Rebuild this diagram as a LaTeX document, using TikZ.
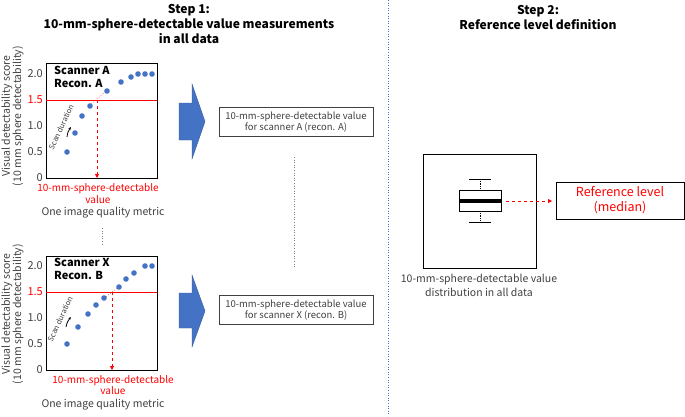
\documentclass[tikz,border=0pt]{standalone}
\usepackage{fontspec}
\setmainfont{Noto Sans CJK JP}
\usetikzlibrary{arrows.meta}
\definecolor{obl}{HTML}{4472C4}
\definecolor{dgray}{HTML}{404040}
\definecolor{rd}{HTML}{FF0000}
\begin{document}
\begin{tikzpicture}[x=1pt,y=-1pt,
  ttl/.style={font=\bfseries\fontsize{12.1}{15}\selectfont, align=center, text=black},
  tick/.style={anchor=east, font=\fontsize{11}{12}\selectfont, text=dgray, inner sep=0},
  ylab/.style={rotate=90, font=\fontsize{10.5}{12}\selectfont, text=dgray, inner sep=0},
  frame/.style={draw=black, line width=0.9pt, anchor=north west, inner sep=0},
  pt/.style={fill=obl},
  bold font/.style={font=\bfseries\fontsize{11}{12.5}\selectfont, anchor=north west, align=left, inner sep=0, text=black},
  sdur/.style={rotate=65, font=\fontsize{7.5}{8}\selectfont, text=dgray, inner sep=0},
  redlab/.style={font=\fontsize{10}{11.5}\selectfont, align=center, text=rd, inner sep=0},
  metric/.style={font=\fontsize{10.5}{12}\selectfont, text=dgray, inner sep=0},
  valbox/.style={draw=dgray, line width=0.8pt, minimum width=154pt, minimum height=29pt, font=\fontsize{9.5}{11}\selectfont, align=center, text=dgray, inner sep=0},
  blockarrow/.style={fill=obl, draw=obl!80!black, line width=0.4pt},
  reddash/.style={draw=rd, dashed, line width=0.9pt, -{Triangle[length=4pt,width=4pt]}},
  vdots/.style={draw=gray, dotted, line width=0.6pt}
]
\useasboundingbox (0,0) rectangle (685,416);

% titles
\node[ttl] (t1) at (189,24) {Step 1:\\10-mm-sphere-detectable value measurements\\in all data};
\node[ttl] (t2) at (538,17) {Step 2:\\Reference level definition};

% separator
\coordinate (sepT) at (388,0);
\coordinate (sepB) at (388,416);
\draw[obl, dotted, line width=0.6pt] (sepT) -- (sepB);

% ---------- plot A ----------
\node[frame, minimum width=111pt, minimum height=115pt] (pA) at (46,63) {};
\node[tick] (a20) at (43,74) {2.0};
\node[tick, text=rd] (a15) at (43,100) {1.5};
\node[tick] (a10) at (43,126) {1.0};
\node[tick] (a05) at (43,152) {0.5};
\node[tick] (a00) at (43,178) {0};
\node[ylab] (yA1) at (7,116) {Visual detectability score};
\node[ylab] (yA2) at (18,116) {(10 mm sphere detectability)};
\draw[rd, line width=0.6pt] (46,100) -- (157,100);
\draw[rd, dotted, line width=0.6pt] (91,104) -- (106,91);
\foreach \x/\y in {67/152,75/133,82/116,90/106,107/91,121/82,131/77,138/74,145/74,152/74}
  \fill[pt] (\x,\y) circle (2.8pt);
\node[bold font] (sA) at (54,66) {Scanner A\\Recon. A};
\node[sdur] (sdA) at (61,127) {Scan duration};
\coordinate (saA1) at (67,137);
\coordinate (saA2) at (71,127);
\draw[line width=0.8pt, -{Stealth[length=3pt,width=2.5pt]}] (saA1) to[bend left=15] (saA2);
\coordinate (iA) at (97,100);
\coordinate (bA) at (97,178);
\draw[reddash] (iA) -- (bA);
\node[redlab] (rA) at (98,193.5) {10-mm-sphere-detectable\\value};
\node[metric] (mA) at (103,213) {One image quality metric};

% dots between plots
\coordinate (dvT) at (102,228);
\coordinate (dvB) at (102,244);
\draw[vdots] (dvT) -- (dvB);

% ---------- plot X ----------
\node[frame, minimum width=111pt, minimum height=114pt] (pB) at (46,256) {};
\node[tick] (b20) at (43,266) {2.0};
\node[tick, text=rd] (b15) at (43,292) {1.5};
\node[tick] (b10) at (43,318) {1.0};
\node[tick] (b05) at (43,344) {0.5};
\node[tick] (b00) at (43,370) {0};
\node[ylab] (yB1) at (7,314) {Visual detectability score};
\node[ylab] (yB2) at (18,314) {(10 mm sphere detectability)};
\draw[rd, line width=0.6pt] (46,292) -- (157,292);
\draw[rd, dotted, line width=0.6pt] (104,298) -- (119,287);
\foreach \x/\y in {67/344,78/327,88/314,96/305,104/298,119/287,126/279,134/273,145/266,152/266}
  \fill[pt] (\x,\y) circle (2.8pt);
\node[bold font] (sB) at (54,258) {Scanner X\\Recon. B};
\node[sdur] (sdB) at (60,319) {Scan duration};
\coordinate (saB1) at (66,327);
\coordinate (saB2) at (71,317);
\draw[line width=0.8pt, -{Stealth[length=3pt,width=2.5pt]}] (saB1) to[bend left=15] (saB2);
\coordinate (iB) at (112,292);
\coordinate (bB) at (112,370);
\draw[reddash] (iB) -- (bB);
\node[redlab] (rB) at (113,385) {10-mm-sphere-detectable\\value};
\node[metric] (mB) at (103,405) {One image quality metric};

% ---------- block arrows ----------
\draw[blockarrow] (179,103) -- (192,103) -- (192,84) -- (205,121.5) -- (192,159) -- (192,140) -- (179,140) -- cycle;
\draw[blockarrow] (179,293) -- (192,293) -- (192,275) -- (205,311) -- (192,347) -- (192,328) -- (179,328) -- cycle;

% ---------- value boxes ----------
\node[valbox] (vA) at (296,122) {10-mm-sphere-detectable value\\for scanner A (recon. A)};
\node[valbox] (vB) at (296,310) {10-mm-sphere-detectable value\\for scanner X (recon. B)};
\coordinate (mdT) at (294,157);
\coordinate (mdB) at (294,268);
\draw[vdots] (mdT) -- (mdB);

% ---------- step 2 ----------
\node[frame, minimum width=113pt, minimum height=114pt] (dist) at (423,154) {};
\coordinate (wT) at (480,179);
\coordinate (wB) at (480,222);
\draw[black, densely dotted, line width=0.8pt] (wT) -- (480,190);
\draw[black, densely dotted, line width=0.8pt] (480,211) -- (wB);
\draw[black, line width=0.9pt] (469,179) -- (491,179);
\draw[black, line width=0.9pt] (469,222) -- (491,222);
\node[draw=black, line width=0.9pt, minimum width=42pt, minimum height=21pt, inner sep=0] (bx) at (480,200.5) {};
\draw[black, line width=3.5pt] (459,201) -- (501,201);
\node[draw=black, line width=0.8pt, minimum width=128pt, minimum height=37pt, inner sep=0,
      font=\fontsize{12.5}{15}\selectfont, align=center, text=rd] (ref) at (620,200.5) {Reference level\\(median)};
\coordinate (rs) at (506,201);
\coordinate (re) at (552,201);
\draw[reddash, line width=0.8pt] (rs) -- (re);
\node[font=\fontsize{10.5}{14}\selectfont, align=center, text=dgray, inner sep=0] (cap) at (479,285) {10-mm-sphere-detectable value\\distribution in all data};
\end{tikzpicture}
\end{document}
